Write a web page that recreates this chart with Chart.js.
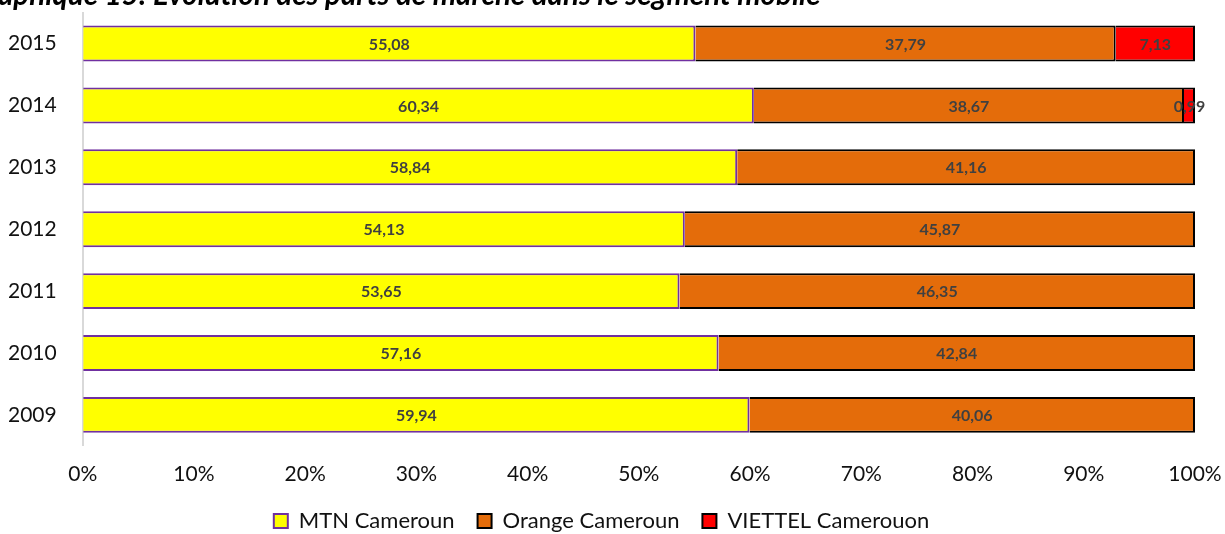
<!DOCTYPE html>
<html>
<head>
<meta charset="utf-8">
<script src="https://cdn.jsdelivr.net/npm/chart.js@4"></script>
<style>
  body { margin: 0; background: #fff; overflow: hidden; }
</style>
</head>
<body>
<canvas id="myChart" width="1225" height="534"></canvas>
<script>
var years = ["2015", "2014", "2013", "2012", "2011", "2010", "2009"];
var mtn = [55.08, 60.34, 58.84, 54.13, 53.65, 57.16, 59.94];
var orange = [37.79, 38.67, 41.16, 45.87, 46.35, 42.84, 40.06];
var viettel = [7.13, 0.99, 0, 0, 0, 0, 0];
var names = ["MTN Cameroun", "Orange Cameroun", "VIETTEL Camerouon"];
var title = "aphique 15: Evolution des parts de marché dans le segment mobile";

// labels in the middle of each bar + the cut title at the top
var barLabels = {
  id: "barLabels",
  afterDatasetsDraw: function(chart) {
    var ctx = chart.ctx;
    ctx.save();
    ctx.font = "bold 16px Lato";
    ctx.fillStyle = "#404040";
    ctx.textAlign = "center";
    ctx.textBaseline = "middle";
    chart.data.datasets.forEach(function(ds, i) {
      chart.getDatasetMeta(i).data.forEach(function(bar, j) {
        var v = ds.data[j];
        if (!v) return;
        ctx.fillText(v.toFixed(2).replace(".", ","), (bar.x + bar.base) / 2, bar.y + 1);
      });
    });
    ctx.font = "italic bold 29.5px Lato";
    ctx.fillStyle = "#000";
    ctx.textAlign = "left";
    ctx.textBaseline = "alphabetic";
    ctx.fillText(title, -2, 5);
    ctx.restore();
  }
};

new Chart("myChart", {
  type: "bar",
  data: {
    labels: years,
    datasets: [
      { label: names[0], data: mtn, backgroundColor: "#ffff00", borderColor: "#7030a0", borderWidth: 2 },
      { label: names[1], data: orange, backgroundColor: "#e46c0a", borderColor: "#000000", borderWidth: 2 },
      { label: names[2], data: viettel, backgroundColor: "#ff0000", borderColor: "#000000", borderWidth: 2 }
    ]
  },
  options: {
    indexAxis: "y",
    responsive: false,
    animation: false,
    layout: { padding: { left: 8, right: 30, top: 12, bottom: -8 } },
    datasets: { bar: { categoryPercentage: 1, barPercentage: 0.58 } },
    scales: {
      x: {
        stacked: true, min: 0, max: 100,
        grid: { display: true, drawOnChartArea: false, drawTicks: true, tickLength: 16, tickColor: "transparent" },
        border: { display: false },
        ticks: { stepSize: 10, padding: 0, color: "#111", font: { family: "Lato", size: 21 },
          callback: function(v) { return v + "%"; } }
      },
      y: {
        stacked: true,
        grid: { display: true, drawOnChartArea: false, drawTicks: true, tickLength: 26, tickColor: "transparent" },
        border: { display: true, color: "#d9d9d9", width: 2 },
        ticks: { padding: 0, color: "#111", font: { family: "Lato", size: 21 } }
      }
    },
    plugins: {
      legend: {
        position: "bottom",
        labels: { boxWidth: 14, boxHeight: 14, padding: 23, color: "#111", font: { family: "Lato", size: 22 } }
      },
      tooltip: { enabled: false }
    }
  },
  plugins: [barLabels]
});
</script>
</body>
</html>
